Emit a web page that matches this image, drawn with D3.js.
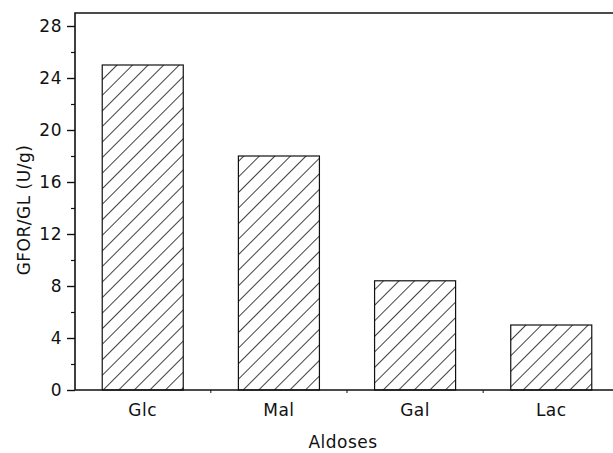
<!DOCTYPE html>
<html>
<head>
<meta charset="utf-8">
<script src="https://cdn.jsdelivr.net/npm/d3@7"></script>
<style>
  body { margin: 0; background: #fff; overflow: hidden; }
  svg { display: block; }
  text { font-family: "DejaVu Sans", Verdana, sans-serif; fill: #111; }
</style>
</head>
<body>
<svg width="613" height="453"></svg>
<script>
const categories = ["Glc", "Mal", "Gal", "Lac"];
const values = [25, 18, 8.4, 5];
const yTicks = [0, 4, 8, 12, 16, 20, 24, 28];
const yMinor = [2, 6, 10, 14, 18, 22, 26];

const margin = { top: 13, right: -6, bottom: 63, left: 75 };
const width = 613 - margin.left - margin.right;
const height = 453 - margin.top - margin.bottom;

const svg = d3.select("svg");

// diagonal hatch for the bars
svg.append("defs").append("pattern")
  .attr("id", "hatch")
  .attr("patternUnits", "userSpaceOnUse")
  .attr("width", 11).attr("height", 11)
  .attr("patternTransform", "rotate(45)")
  .append("line")
  .attr("x1", 0).attr("y1", 0).attr("x2", 0).attr("y2", 11)
  .attr("stroke", "#111").attr("stroke-width", 1.6);

const g = svg.append("g")
  .attr("transform", "translate(" + margin.left + "," + margin.top + ")");

const x = d3.scaleBand().domain(categories).range([0, width]).paddingInner(0.405).paddingOuter(0.2);
const y = d3.scaleLinear().domain([0, 29]).range([height, 0]);

g.selectAll(".bar")
  .data(values)
  .enter()
  .append("rect")
  .attr("class", "bar")
  .attr("x", (d, i) => x(categories[i]))
  .attr("y", d => y(d))
  .attr("width", x.bandwidth())
  .attr("height", d => y(0) - y(d))
  .attr("fill", "url(#hatch)")
  .attr("stroke", "#111")
  .attr("stroke-width", 1.2);

// frame: top, left, bottom (right side is cut off in the original)
g.append("path")
  .attr("d", "M" + (width + 20) + ",0H0V" + height + "H" + (width + 20))
  .attr("fill", "none")
  .attr("stroke", "#111")
  .attr("stroke-width", 1.6);

const yAxis = g.append("g")
  .call(d3.axisLeft(y).tickValues(yTicks).tickSize(8).tickPadding(5).tickFormat(d3.format("d")));
yAxis.select(".domain").remove();
yAxis.selectAll("line").attr("stroke", "#111").attr("stroke-width", 1.4);
yAxis.selectAll("text").style("font-size", "17px").style("letter-spacing", "0.5px").attr("fill", "#111");

const yMin = g.append("g")
  .call(d3.axisLeft(y).tickValues(yMinor).tickSize(4).tickFormat(""));
yMin.select(".domain").remove();
yMin.selectAll("line").attr("stroke", "#111").attr("stroke-width", 1.2);

const xAxis = g.append("g")
  .attr("transform", "translate(0," + height + ")")
  .call(d3.axisBottom(x).tickSize(0).tickPadding(14));
xAxis.select(".domain").remove();
xAxis.selectAll("text").style("font-size", "17px").style("letter-spacing", "0.5px").attr("fill", "#111");

// small ticks between categories
const step = x.step();
g.selectAll(".xminor")
  .data(categories.slice(1))
  .enter()
  .append("line")
  .attr("x1", d => x(d) - (step - x.bandwidth()) / 2)
  .attr("x2", d => x(d) - (step - x.bandwidth()) / 2)
  .attr("y1", height).attr("y2", height + 3)
  .attr("stroke", "#111").attr("stroke-width", 1);

svg.append("text")
  .attr("x", 343).attr("y", 448)
  .attr("text-anchor", "middle")
  .style("font-size", "17px")
  .style("letter-spacing", "0.5px")
  .text("Aldoses");

svg.append("text")
  .attr("transform", "translate(30,210) rotate(-90)")
  .attr("text-anchor", "middle")
  .style("font-size", "17px")
  .style("letter-spacing", "0.5px")
  .text("GFOR/GL (U/g)");
</script>
</body>
</html>
